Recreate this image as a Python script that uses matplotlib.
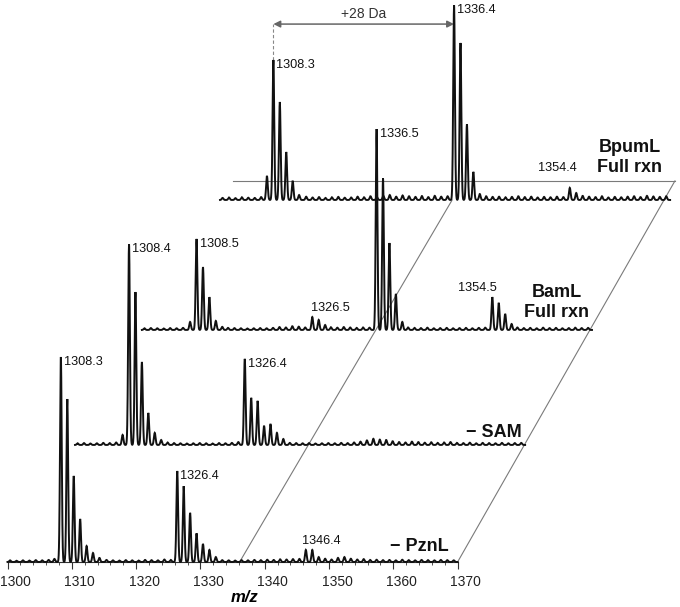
import numpy as np
import matplotlib.pyplot as plt
from matplotlib.transforms import ScaledTranslation

plt.rcParams['font.family'] = ['Liberation Sans', 'DejaVu Sans']

# peak lists (m/z, relative intensity)
pznl_mz = [1307.3, 1308.3, 1309.3, 1310.3, 1311.3, 1312.3, 1313.3, 1314.3,
           1326.4, 1327.4, 1328.4, 1329.4, 1330.4, 1331.4, 1332.4,
           1346.4, 1347.4, 1348.4]
pznl_int = [1.5, 100, 79.5, 42, 21, 7.8, 4.4, 2,
            44.4, 37, 24, 14, 8.8, 5.9, 2.4,
            5.9, 5.9, 2.4]

sam_mz = [1307.4, 1308.4, 1309.4, 1310.4, 1311.4, 1312.4, 1313.4,
          1326.4, 1327.4, 1328.4, 1329.4, 1330.4, 1331.4, 1332.4]
sam_int = [4.9, 98, 74.6, 40.5, 15.6, 5.9, 2.4,
           42, 23, 21.5, 9.3, 10.2, 5.9, 2.9]

baml_mz = [1307.5, 1308.5, 1309.5, 1310.5, 1311.5, 1312.5,
           1326.5, 1327.5, 1328.5,
           1336.5, 1337.5, 1338.5, 1339.5, 1340.5,
           1354.5, 1355.5, 1356.5, 1357.5]
baml_int = [3.9, 44.4, 30.7, 16, 4.4, 1.5,
            6.3, 4.9, 2.4,
            98, 74, 42.4, 17.6, 3.9,
            16, 13.2, 7.8, 2.9]

bpuml_mz = [1307.3, 1308.3, 1309.3, 1310.3, 1311.3, 1312.3,
            1336.4, 1337.4, 1338.4, 1339.4, 1340.4,
            1354.4, 1355.4]
bpuml_int = [11.7, 68.3, 47.8, 23.4, 9.3, 2.4,
             95, 76.6, 37, 13.7, 2.9,
             5.9, 3.4]

# small baseline bumps, one per Da (1300.4 ... 1369.4)
noise_mz = np.arange(1300.4, 1370, 1.0)
pznl_noise = [0.8, 0.6, 0.8, 0.7, 0.9, 0.8, 1.0,
              0, 0, 0, 0, 0, 0, 0, 0,
              1.0, 0.8, 0.7, 0.9, 0.8, 0.7, 1.0, 0.9, 0.8, 1.2, 1.0,
              0, 0, 0, 0, 0, 0, 0,
              0.9, 0.8, 0.7, 0.9, 0.8, 1.0, 0.9, 1.1, 1.0, 1.3, 1.2, 1.4, 1.5,
              0, 0, 0,
              1.6, 1.2, 2.0, 2.4, 1.6, 1.2, 1.4, 1.0,
              1.1, 0.9, 1.0, 0.8, 1.1, 0.9, 0.8, 1.0, 0.9, 0.8, 1.0, 0.9, 0.8]
sam_noise = [0.8, 0.9, 0.7, 0.8, 1.0, 0.9, 1.2,
             0, 0, 0, 0, 0, 0, 0,
             1.2, 0.9, 0.8, 0.7, 0.8, 0.9, 0.8, 0.7, 0.9, 0.8, 1.0, 1.4,
             0, 0, 0, 0, 0, 0, 0,
             1.0, 0.9, 0.8, 0.9, 0.7, 0.8, 0.9, 0.8, 1.0, 0.9, 1.2, 1.6,
             2.2, 3.0, 2.6, 2.4, 1.8, 1.4,
             1.2, 1.6, 1.4, 1.1, 1.3, 1.0, 1.2, 1.4, 1.0, 0.9, 1.1, 0.8, 1.0,
             0.9, 0.8, 1.0, 0.8, 0.9, 1.0]
baml_noise = [0.8, 0.9, 0.8, 0.7, 0.9, 0.8, 1.0,
              0, 0, 0, 0, 0, 0,
              1.0, 0.9, 0.8, 0.7, 0.8, 0.9, 0.8, 1.0, 1.4, 1.2, 1.8, 1.6, 1.2,
              0, 0, 0,
              1.3, 1.1, 1.4, 1.2, 1.0, 1.2, 1.1,
              0, 0, 0, 0, 0,
              1.2, 1.0, 0.9, 1.1, 0.8, 0.9, 1.0, 0.8, 0.9, 1.0, 0.8, 1.0, 1.1,
              0, 0, 0, 0,
              1.2, 0.9, 1.0, 0.8, 1.1, 0.9, 1.0, 0.8, 0.9, 1.1, 0.9, 1.0]
bpuml_noise = [1.0, 1.2, 0.9, 1.3, 1.1, 1.0, 1.4,
               0, 0, 0, 0, 0, 0,
               1.6, 1.2, 1.4, 1.0, 1.3, 1.5, 1.1, 1.2, 1.6, 1.3, 1.8, 1.4,
               2.0, 2.4, 1.6, 2.2, 1.8, 1.5, 1.9, 1.4, 2.0, 1.6, 1.8,
               0, 0, 0, 0, 0,
               1.8, 1.5, 1.6, 1.3, 1.5, 1.8, 1.4, 1.6, 1.2, 1.5, 1.3, 1.6, 1.4,
               0, 0,
               2.0, 1.6, 1.4, 1.8, 1.2, 1.5, 1.3, 1.6, 1.8, 1.4, 2.0, 1.7, 1.5, 1.8]

# layout: each spectrum is shifted back into the "depth" of the plot
shift_mz = [0, 10.5, 20.9, 33.05]
shift_int = [0, 57.1, 113.2, 176.6]

mz_grid = np.linspace(1300, 1370, 3501)
width = 0.13


def profile(centres, heights, ncentres, nheights):
    y = np.zeros_like(mz_grid)
    for c, h in zip(list(centres) + list(ncentres), list(heights) + list(nheights)):
        y += h * np.exp(-0.5 * ((mz_grid - c) / width) ** 2)
    return y


fig = plt.figure(figsize=(6.8, 6.07), dpi=100)
ax = fig.add_axes([7.5 / 680, 45 / 607, 1 - 7.5 / 680, 1 - 45 / 607])
ax.set_xlim(1300, 1300 + 672.5 / 6.43)
ax.set_ylim(0, 562 / 2.05)

# plane outline
grey = '#7a7a7a'
ax.plot([1335.07, 1403.8], [185.9, 185.9], color=grey, lw=0.8, zorder=1)
ax.plot([1370, 1403.8], [0, 185.9], color=grey, lw=0.8, zorder=1)
ax.plot([1336.1, 1336.1 + shift_mz[3]], [0, shift_int[3]], color=grey, lw=0.8, zorder=1)

spectra = [(pznl_mz, pznl_int, pznl_noise),
           (sam_mz, sam_int, sam_noise),
           (baml_mz, baml_int, baml_noise),
           (bpuml_mz, bpuml_int, bpuml_noise)]
for k in [3, 2, 1, 0]:
    mz, inten, nz = spectra[k]
    y = profile(mz, inten, noise_mz, nz)
    ax.plot(mz_grid + shift_mz[k], y + shift_int[k], color='#111111', lw=1.4,
            solid_joinstyle='miter', clip_on=False, zorder=2 + (3 - k))

# peak labels: (spectrum, peak index, text, offset px, ha, va)
labels = [(0, 1, '1308.3', (3, 1), 'left', 'top'),
          (0, 8, '1326.4', (3, 1), 'left', 'top'),
          (0, 15, '1346.4', (-4, 3), 'left', 'bottom'),
          (1, 1, '1308.4', (3, 1), 'left', 'top'),
          (1, 7, '1326.4', (3, 1), 'left', 'top'),
          (2, 1, '1308.5', (3, 1), 'left', 'top'),
          (2, 6, '1326.5', (-1, 3), 'left', 'bottom'),
          (2, 9, '1336.5', (3, 1), 'left', 'top'),
          (2, 14, '1354.5', (5, 3), 'right', 'bottom'),
          (3, 1, '1308.3', (3, 1), 'left', 'top'),
          (3, 6, '1336.4', (3, 1), 'left', 'top'),
          (3, 11, '1354.4', (7, 14), 'right', 'bottom')]
for k, i, txt, off, ha, va in labels:
    mz, inten, nz = spectra[k]
    ax.annotate(txt, xy=(mz[i] + shift_mz[k], inten[i] + shift_int[k]),
                xytext=off, textcoords='offset pixels', ha=ha, va=va,
                fontsize=9.2, color='#111111', zorder=10)

# +28 Da arrow on the top spectrum
arrow_y = 85.8 + shift_int[3]
x1 = bpuml_mz[1] + shift_mz[3]
x2 = bpuml_mz[6] + shift_mz[3]
ax.annotate('', xy=(x1, arrow_y), xytext=(x2, arrow_y),
            arrowprops=dict(arrowstyle='<|-|>', color='#666666', lw=1.1,
                            mutation_scale=10, shrinkA=0, shrinkB=0))
ax.plot([x1, x1], [bpuml_int[1] + shift_int[3], arrow_y], color='#888888',
        lw=0.8, ls=(0, (3, 2)), zorder=1)
ax.annotate('+28 Da', xy=((x1 + x2) / 2, arrow_y), xytext=(0, 3),
            textcoords='offset pixels', ha='center', va='bottom',
            fontsize=10, color='#333333')

# sample names at the right end of each trace
names = [(0, '\u2212 PznL', (-9, 11), 'baseline'),
         (1, '\u2212 SAM', (-3, 8), 'baseline'),
         (2, 'BamL\nFull rxn', (-3, 9), 'bottom'),
         (3, 'BpumL\nFull rxn', (-8, 24), 'bottom')]
for k, txt, off, va in names:
    ax.annotate(txt, xy=(1370 + shift_mz[k], shift_int[k]), xytext=off,
                textcoords='offset pixels', ha='right', va=va,
                fontsize=13, fontweight='bold', linespacing=1.25,
                multialignment='center', color='#111111')

# axis
for s in ['top', 'right', 'left']:
    ax.spines[s].set_visible(False)
ax.spines['bottom'].set_bounds(1300, 1370)
ax.spines['bottom'].set_color('#333333')
ax.set_yticks([])
ax.set_xticks(np.arange(1300, 1371, 10))
ax.set_xticks(np.arange(1300, 1371, 2), minor=True)
ax.tick_params(axis='x', which='major', length=5, width=0.8, color='#333333',
               labelsize=10, labelcolor='#222222', pad=4)
ax.tick_params(axis='x', which='minor', length=2.2, width=0.6, color='#333333')
for lab in ax.get_xticklabels():
    lab.set_transform(lab.get_transform() + ScaledTranslation(0.08, 0, fig.dpi_scale_trans))
ax.set_xlabel('m/z', fontsize=12, fontweight='bold', style='italic', va='center')
ax.xaxis.set_label_coords(0.352, -0.0625)

fig.savefig('out.png', dpi=100)
